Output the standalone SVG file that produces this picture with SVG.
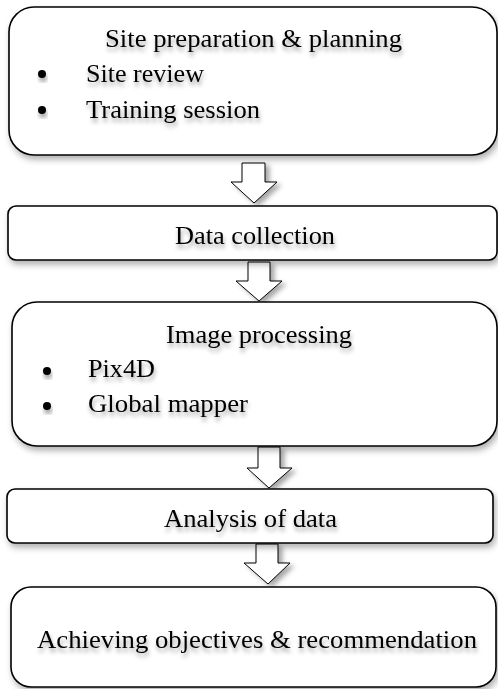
<svg xmlns="http://www.w3.org/2000/svg" width="498" height="689" viewBox="0 0 498 689">
<defs>
<filter id="bs" x="-10%" y="-20%" width="130%" height="150%">
<feDropShadow dx="2" dy="4" stdDeviation="3" flood-color="#000" flood-opacity="0.3"/>
</filter>
<filter id="ts" x="-10%" y="-40%" width="130%" height="200%">
<feDropShadow dx="1" dy="4" stdDeviation="2" flood-color="#000" flood-opacity="0.35"/>
</filter>
<filter id="as" x="-40%" y="-30%" width="200%" height="170%">
<feDropShadow dx="4" dy="3" stdDeviation="2.5" flood-color="#000" flood-opacity="0.35"/>
</filter>
</defs>
<style>
.box{fill:#fff;stroke:#000;stroke-width:1.6;filter:url(#bs)}
.t{font-family:"Liberation Serif","Times New Roman",serif;font-size:25.5px;fill:#000;filter:url(#ts)}
.bul{fill:#000;filter:url(#ts)}
.arr{fill:#fff;stroke:#000;stroke-width:1;filter:url(#as)}
</style>
<g id="connectors">
<path class="arr" d="M242,163 H265 V182 H277 L254,203 L231,182 H242 Z"/>
<path class="arr" d="M248,262 H270 V281 H282 L259,301 L236,281 H248 Z"/>
<path class="arr" d="M258,447 H280 V468 H292 L269,488 L247,468 H258 Z"/>
<path class="arr" d="M256,544 H278 V563 H290 L268,584 L244,563 H256 Z"/>
</g>
<g id="node1">
<rect class="box" x="9" y="7" width="488" height="148" rx="25" ry="25"/>
<text class="t" x="105" y="47" textLength="297" lengthAdjust="spacingAndGlyphs">Site preparation &amp; planning</text>
<circle class="bul" cx="42" cy="74" r="4"/>
<text class="t" x="86" y="82" textLength="118" lengthAdjust="spacingAndGlyphs">Site review</text>
<circle class="bul" cx="42" cy="110" r="4"/>
<text class="t" x="86" y="118" textLength="174" lengthAdjust="spacingAndGlyphs">Training session</text>
</g>
<g id="node2">
<rect class="box" x="8" y="206" width="489" height="54" rx="8" ry="8"/>
<text class="t" x="175" y="244" textLength="160" lengthAdjust="spacingAndGlyphs">Data collection</text>
</g>
<g id="node3">
<rect class="box" x="12" y="302" width="485" height="144" rx="25" ry="25"/>
<text class="t" x="166" y="343" textLength="186" lengthAdjust="spacingAndGlyphs">Image processing</text>
<circle class="bul" cx="47" cy="371" r="4"/>
<text class="t" x="88" y="377" textLength="67" lengthAdjust="spacingAndGlyphs">Pix4D</text>
<circle class="bul" cx="47" cy="406" r="4"/>
<text class="t" x="88" y="412" textLength="160" lengthAdjust="spacingAndGlyphs">Global mapper</text>
</g>
<g id="node4">
<rect class="box" x="7" y="489" width="486" height="54" rx="8" ry="8"/>
<text class="t" x="164" y="527" textLength="173" lengthAdjust="spacingAndGlyphs">Analysis of data</text>
</g>
<g id="node5">
<rect class="box" x="11" y="587" width="485" height="100" rx="20" ry="20"/>
<text class="t" x="37" y="648" textLength="440" lengthAdjust="spacingAndGlyphs">Achieving objectives &amp; recommendation</text>
</g>
</svg>
